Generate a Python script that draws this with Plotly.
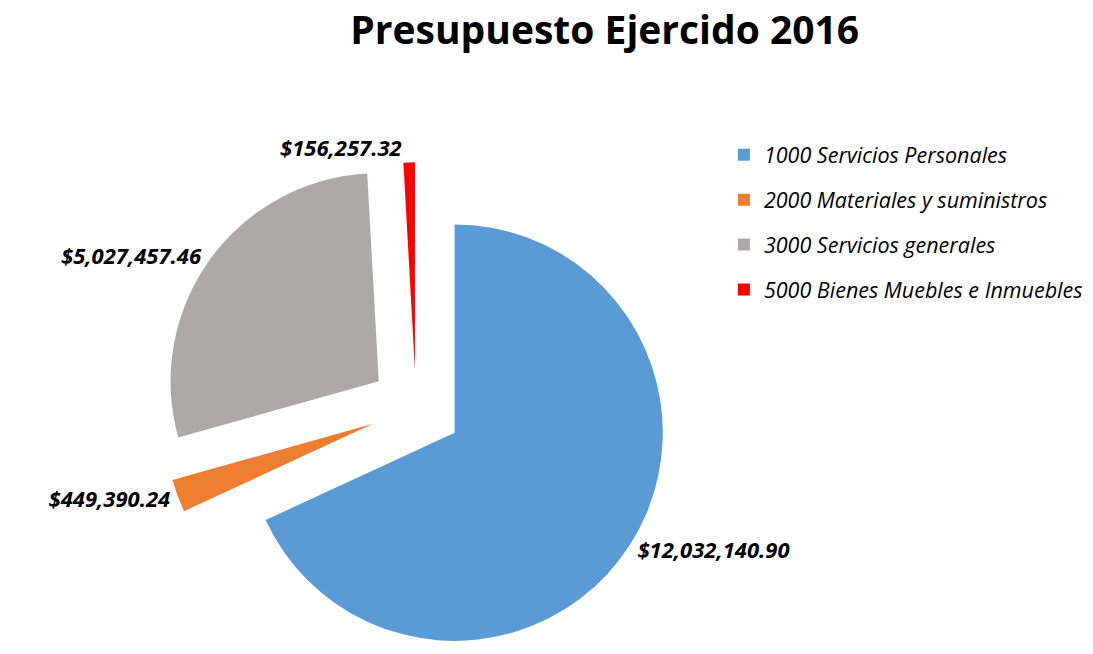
import plotly.graph_objects as go

categories = ["1000 Servicios Personales", "2000 Materiales y suministros",
              "3000 Servicios generales", "5000 Bienes Muebles e Inmuebles"]
values = [12032140.90, 449390.24, 5027457.46, 156257.32]
value_labels = ["$12,032,140.90", "$449,390.24", "$5,027,457.46", "$156,257.32"]
colors = ["#5B9BD5", "#ED7D31", "#ADA9A8", "#FF0000"]
pulls = [0.22, 0.22, 0.22, 0.18]

fig = go.Figure(go.Pie(
    labels=categories,
    values=values,
    text=value_labels,
    texttemplate="<b><i>%{text}</i></b>",
    textposition="outside",
    textfont=dict(family="Open Sans", size=22, color="black"),
    marker=dict(colors=colors, line=dict(color="white", width=0)),
    pull=pulls,
    sort=False,
    direction="clockwise",
    rotation=0,
    domain=dict(x=[154/1093, 662/1093], y=[0, 508/654]),
    showlegend=True,
    hoverinfo="label+text",
))

# empty legend helper so that each slice forms its own legend group (enables row spacing)
fig.add_trace(go.Scatter(
    x=[None], y=[None], mode="markers", name=" ", legendgroup="spacer",
    marker=dict(color="rgba(0,0,0,0)", size=1), hoverinfo="skip", showlegend=True,
))

fig.update_layout(
    width=1093, height=654,
    margin=dict(l=0, r=0, t=0, b=0, autoexpand=False),
    paper_bgcolor="white",
    plot_bgcolor="white",
    xaxis=dict(visible=False),
    yaxis=dict(visible=False),
    title=dict(text="<b>Presupuesto Ejercido 2016</b>", x=0.546, xanchor="center",
               y=0.986, yanchor="top",
               font=dict(family="Open Sans", size=39, color="black")),
    legend=dict(x=0.655, xanchor="left", y=0.807, yanchor="top",
                font=dict(family="Open Sans", size=21.5, color="black", style="italic"),
                itemwidth=30, traceorder="grouped", tracegroupgap=14,
                bgcolor="rgba(0,0,0,0)"),
)

fig.write_html("out.html")
